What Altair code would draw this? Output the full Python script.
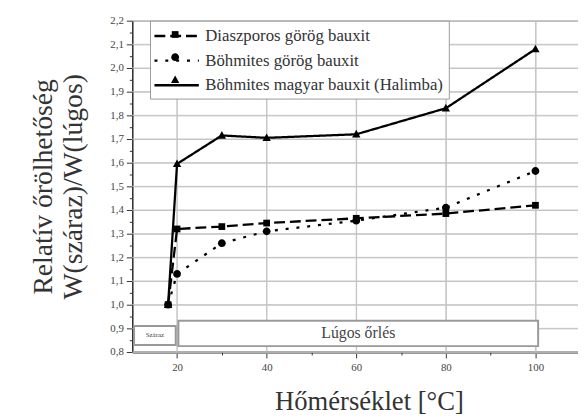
import altair as alt
import pandas as pd

# ---- data ----
S1 = "Diaszporos görög bauxit"
S2 = "Böhmites görög bauxit"
S3 = "Böhmites magyar bauxit (Halimba)"
series_order = [S1, S2, S3]

dia_t = [18, 20, 30, 40, 60, 80, 100]
dia_v = [1.00, 1.32, 1.33, 1.345, 1.365, 1.385, 1.42]

bg_t = [18, 20, 30, 40, 60, 80, 100]
bg_v = [1.00, 1.13, 1.26, 1.31, 1.355, 1.41, 1.565]

hal_t = [18, 20, 30, 40, 60, 80, 100]
hal_v = [1.00, 1.595, 1.715, 1.705, 1.72, 1.83, 2.08]

x_major = [20, 40, 60, 80, 100]
x_minor = [30, 50, 70, 90]
y_major = [0.8, 0.9, 1.0, 1.1, 1.2, 1.3, 1.4, 1.5, 1.6, 1.7, 1.8, 1.9, 2.0, 2.1, 2.2]
y_minor = [0.85, 0.95, 1.05, 1.15, 1.25, 1.35, 1.45, 1.55, 1.65, 1.75, 1.85, 1.95, 2.05, 2.15]

box_labels = ["Száraz", "Lúgos őrlés"]
box_x = [10.4, 20.3]
box_x2 = [19.7, 100.6]
box_y = [0.83, 0.825]
box_y2 = [0.91, 0.932]
box_fs = [7, 16]

# marker / legend-symbol shapes (small paths so the symbol box can be large)
SQUARE = "M-0.38,-0.38H0.38V0.38H-0.38Z"
CIRCLE = "M-0.44,0A0.44,0.44,0,1,0,0.44,0A0.44,0.44,0,1,0,-0.44,0Z"
TRIANGLE = "M0,-0.5L0.47,0.36H-0.47Z"
LONG_LINE = "M-1.22,0H3.78"

# ---- tables ----
rows = []
for name, ts, vs in [(S1, dia_t, dia_v), (S2, bg_t, bg_v), (S3, hal_t, hal_v)]:
    for t, v in zip(ts, vs):
        rows.append({"T": t, "R": v, "series": name, "series_pt": name})
df = pd.DataFrame(rows)

boxes = pd.DataFrame({
    "label": box_labels, "T": box_x, "T2": box_x2, "R": box_y, "R2": box_y2, "fs": box_fs,
})
boxes["Tm"] = (boxes["T"] + boxes["T2"]) / 2
boxes["Rm"] = (boxes["R"] + boxes["R2"]) / 2

gx = pd.DataFrame({"T": x_major})
gy = pd.DataFrame({"R": y_major})

SERIF = "Liberation Serif"
GRID = "#c4c4c4"
xscale = alt.Scale(domain=[10, 109.5], nice=False, zero=False)
yscale = alt.Scale(domain=[0.8, 2.2], nice=False, zero=False)

X_TITLE = "Hőmérséklet [°C]"
Y_TITLE = ["Relatív őrölhetőség", "W(száraz)/W(lúgos)"]

x_axis = alt.Axis(
    orient="bottom", values=x_major, labelOverlap=False, tickSize=6,
    grid=True, gridColor=GRID, gridWidth=1, gridOpacity=1,
    domainColor="#999", domainWidth=3, tickColor="#333",
    labelFont=SERIF, labelFontSize=11, labelColor="#444", labelPadding=4,
    title=X_TITLE, titleFont=SERIF, titleFontSize=27, titleX=240,
    titleFontWeight="normal", titleColor="#333", titlePadding=16,
)
y_axis = alt.Axis(
    orient="left", values=y_major, labelOverlap=False, tickSize=6,
    grid=True, gridColor=GRID, gridWidth=1, gridOpacity=1,
    labelExpr="replace(format(datum.value, '.1f'), '.', ',')",
    domainColor="#333", domainWidth=1.5, tickColor="#333",
    labelFont=SERIF, labelFontSize=11, labelColor="#444", labelPadding=3,
    title=Y_TITLE, titleFont=SERIF,
    titleFontSize=28, titleFontWeight="normal", titleColor="#333",
    titleLineHeight=30, titlePadding=23,
)
x_axis_minor = alt.Axis(
    orient="bottom", values=x_minor, tickSize=3, labels=False, grid=False,
    domain=False, tickColor="#333", title=None,
)
y_axis_minor = alt.Axis(
    orient="left", values=y_minor, tickSize=3, labels=False, grid=False,
    domain=False, tickColor="#333", title=None,
)

grid_x = alt.Chart(gx).mark_rule(color=GRID, strokeWidth=1, opacity=1).encode(
    x=alt.X("T:Q", scale=xscale, axis=None),
)
grid_y = alt.Chart(gy).mark_rule(color=GRID, strokeWidth=1, opacity=1).encode(
    y=alt.Y("R:Q", scale=yscale, axis=None),
)

common_leg = dict(
    orient="none", legendY=0, title=None, padding=5,
    labelFont=SERIF, labelFontSize=17, labelLimit=500,
    symbolSize=324, rowPadding=6,
)

lines = alt.Chart(df).mark_line(color="black", strokeWidth=2.3).encode(
    x=alt.X("T:Q", scale=xscale, axis=x_axis),
    y=alt.Y("R:Q", scale=yscale, axis=y_axis),
    strokeDash=alt.StrokeDash(
        "series:N",
        scale=alt.Scale(domain=series_order, range=[[11, 5], [3, 8], [1, 0]]),
        legend=alt.Legend(
            legendX=18, labelColor="#333", labelOffset=30,
            strokeColor="#999", fillColor="white",
            symbolType=LONG_LINE, symbolStrokeWidth=2.5,
            symbolStrokeColor="black", symbolFillColor="transparent",
            **common_leg,
        ),
    ),
)

points = alt.Chart(df).mark_point(filled=True, color="black", opacity=1, size=324).encode(
    x=alt.X("T:Q", scale=xscale, axis=x_axis_minor),
    y=alt.Y("R:Q", scale=yscale, axis=y_axis_minor),
    shape=alt.Shape(
        "series_pt:N",
        scale=alt.Scale(range=[SQUARE, CIRCLE, TRIANGLE]),
        sort=series_order,
        legend=alt.Legend(
            legendX=29.5, labelExpr="''", labelOffset=0,
            symbolFillColor="black", symbolStrokeColor="black",
            symbolStrokeWidth=0,
            **common_leg,
        ),
    ),
)

rects = alt.Chart(boxes).mark_rect(fill="white", stroke="#999", strokeWidth=2).encode(
    x=alt.X("T:Q", scale=xscale, axis=None),
    x2="T2:Q",
    y=alt.Y("R:Q", scale=yscale, axis=None),
    y2="R2:Q",
)

texts = alt.Chart(boxes).mark_text(font=SERIF, color="#444").encode(
    x=alt.X("Tm:Q", scale=xscale, axis=None),
    y=alt.Y("Rm:Q", scale=yscale, axis=None),
    text="label:N",
    size=alt.Size("fs:Q", scale=None, legend=None),
)

chart = (
    alt.layer(grid_x, grid_y, lines, rects, texts, points)
    .resolve_axis(x="independent", y="independent")
    .resolve_legend(strokeDash="independent", shape="independent")
    .properties(
        width=452, height=336,
        autosize=alt.AutoSizeParams(type="none"),
        padding={"left": 126, "top": 10, "right": 0, "bottom": 62},
        background="white",
    )
    .configure_view(stroke="#888", strokeWidth=1, fill="transparent")
    .configure_legend(labelFont=SERIF)
    .configure_text(font=SERIF)
)

chart.save("out.html", embed_options={"renderer": "svg", "actions": False})
